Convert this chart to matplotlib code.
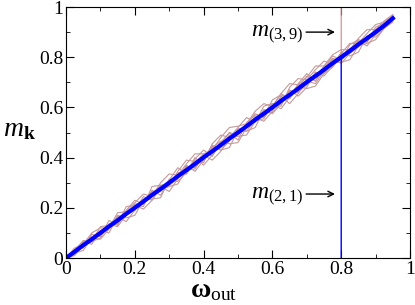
import matplotlib
matplotlib.use("Agg")
import matplotlib.pyplot as plt
from matplotlib.ticker import MultipleLocator, FixedLocator, FixedFormatter

plt.rcParams['font.family'] = ['Liberation Serif', 'DejaVu Serif']
plt.rcParams['mathtext.fontset'] = 'custom'
plt.rcParams['mathtext.rm'] = 'Liberation Serif'
plt.rcParams['mathtext.it'] = 'Liberation Serif:italic'
plt.rcParams['mathtext.bf'] = 'Liberation Serif:bold'

# omega grid
omega = [0, .025, .05, .075, .1, .125, .15, .175, .2, .225, .25, .275, .3, .325,
         .35, .375, .4, .425, .45, .475, .5, .525, .55, .575, .6, .625, .65, .675,
         .7, .725, .75, .775, .8, .825, .85, .875, .9, .925, .95]

# noisy m_k curves (brown bundle)
m_a = [0, .03, .045, .08, .095, .13, .14, .18, .195, .235, .245, .28, .31, .315, .36, .37, .41, .43, .44, .49,
       .495, .535, .545, .59, .59, .64, .645, .69, .695, .735, .745, .79, .795, .835, .845, .88, .905, .93, .955]
m_b = [0, .02, .06, .07, .11, .12, .165, .17, .215, .22, .265, .27, .285, .34, .345, .39, .39, .44, .465, .47,
       .515, .52, .565, .565, .615, .62, .665, .665, .71, .72, .765, .77, .81, .82, .86, .87, .895, .935, .95]
m_c = [0, .028, .048, .085, .1, .118, .158, .185, .19, .23, .26, .265, .305, .33, .335, .38, .415, .41, .455, .5,
       .49, .53, .575, .56, .6, .655, .635, .68, .725, .705, .755, .795, .785, .83, .865, .86, .91, .92, .96]
m_d = [0, .022, .055, .078, .092, .135, .145, .17, .21, .215, .255, .29, .29, .315, .365, .36, .4, .445, .43, .465,
       .51, .505, .55, .58, .58, .615, .655, .66, .69, .74, .735, .76, .805, .815, .84, .885, .89, .925, .965]
m_e = [0, .026, .05, .072, .105, .128, .152, .18, .2, .228, .248, .278, .298, .322, .352, .372, .402, .425, .448, .478,
       .5, .528, .552, .572, .605, .628, .648, .672, .702, .728, .752, .775, .8, .825, .852, .875, .902, .925, .952]
m_f = [0, .024, .052, .074, .098, .122, .148, .176, .205, .222, .252, .272, .302, .328, .348, .378, .396, .432, .452, .472,
       .504, .522, .556, .576, .596, .632, .652, .676, .698, .732, .748, .782, .812, .818, .848, .878, .898, .932, .948]
m_g = [0, .035, .04, .095, .085, .15, .13, .19, .23, .215, .27, .25, .31, .36, .335, .395, .43, .405, .46, .5,
       .47, .54, .57, .565, .63, .65, .635, .695, .735, .705, .76, .805, .79, .85, .87, .86, .92, .935, .96]
m_h = [0, .015, .065, .055, .11, .1, .165, .145, .19, .245, .23, .285, .265, .315, .37, .345, .39, .45, .43, .44,
       .51, .505, .52, .59, .575, .615, .67, .645, .68, .74, .725, .765, .82, .805, .82, .885, .88, .915, .95]
m_i = [0, .03, .07, .065, .125, .13, .135, .205, .21, .205, .285, .29, .29, .345, .39, .385, .38, .455, .49, .48,
       .52, .56, .54, .605, .615, .605, .68, .715, .71, .75, .785, .77, .815, .855, .855, .895, .93, .94, .965]
m_j = [0, .02, .03, .08, .075, .115, .17, .16, .17, .23, .235, .24, .315, .305, .34, .4, .37, .41, .465, .455,
       .46, .52, .56, .545, .585, .645, .615, .655, .705, .695, .745, .795, .775, .815, .865, .845, .89, .93, .945]
m_k = [0, .04, .055, .1, .12, .12, .18, .185, .22, .255, .245, .3, .335, .33, .375, .415, .415, .43, .48, .52,
       .525, .535, .585, .615, .605, .655, .695, .69, .72, .765, .765, .81, .83, .83, .875, .91, .91, .945, .97]
m_l = [0, .01, .05, .065, .08, .135, .125, .17, .21, .195, .23, .28, .285, .295, .35, .355, .41, .39, .425, .48,
       .485, .49, .545, .555, .61, .595, .64, .685, .675, .685, .735, .78, .78, .79, .845, .855, .87, .915, .94]
brown_curves = [m_a, m_b, m_c, m_d, m_e, m_f, m_g, m_h, m_i, m_j, m_k, m_l]

# mean curves (blue)
m_mean1 = [0, .025, .051, .075, .1, .126, .15, .176, .2, .225, .251, .275, .3, .326, .35, .375, .401, .425, .45, .476,
           .5, .525, .551, .575, .6, .626, .65, .675, .701, .725, .75, .776, .8, .825, .851, .875, .9, .926, .955]
m_mean2 = [0, .024, .049, .076, .099, .124, .151, .174, .201, .224, .249, .276, .299, .324, .351, .374, .399, .426, .449, .474,
           .501, .524, .549, .576, .599, .624, .651, .674, .699, .726, .749, .774, .801, .824, .849, .876, .899, .924, .952]

# m_(3,9): jumps to 1 at omega = 0.8 ; m_(2,1): drops to 0 at omega = 0.8
omega_jump = omega[:33] + [0.8]
m_39 = m_e[:33] + [1.0]
m_21 = m_mean1[:33] + [0.0]

fig = plt.figure(figsize=(4.15, 3.05), dpi=100)
ax = fig.add_axes([0.159, 0.154, 0.829, 0.823])

for m in brown_curves:
    ax.plot(omega, m, color='#c49a9a', lw=0.8)
ax.plot(omega_jump, m_39, color='#d08585', lw=0.8)
ax.plot(omega, m_mean1, color='blue', lw=3.0)
ax.plot(omega, m_mean2, color='blue', lw=1.5)
ax.plot(omega_jump, m_21, color='blue', lw=1.0)

ax.set_xlim(0, 1)
ax.set_ylim(0, 1)
ticks = [0, 0.2, 0.4, 0.6, 0.8, 1]
tick_labels = ['0', '0.2', '0.4', '0.6', '0.8', '1']
ax.xaxis.set_major_locator(FixedLocator(ticks))
ax.xaxis.set_major_formatter(FixedFormatter(tick_labels))
ax.yaxis.set_major_locator(FixedLocator(ticks))
ax.yaxis.set_major_formatter(FixedFormatter(tick_labels))
ax.xaxis.set_minor_locator(MultipleLocator(0.1))
ax.yaxis.set_minor_locator(MultipleLocator(0.1))
ax.tick_params(which='both', direction='in', top=True, right=True, labelsize=14, pad=2)
ax.tick_params(which='major', length=6)
ax.tick_params(which='minor', length=3)

ax.text(-0.135, 0.51, r'$m_{\mathbf{k}}$', transform=ax.transAxes, fontsize=20,
        ha='center', va='center')
ax.text(0.43, -0.08, r'$\mathbf{ω}_{\mathrm{out}}$', transform=ax.transAxes, fontsize=20,
        ha='center', va='top')

ax.annotate('', xy=(0.79, 0.90), xytext=(0.69, 0.90),
            arrowprops=dict(arrowstyle='->', color='black', lw=1.0))
ax.text(0.69, 0.89, r'$m_{(3,9)}$', fontsize=17, ha='right', va='center')
ax.annotate('', xy=(0.79, 0.255), xytext=(0.69, 0.255),
            arrowprops=dict(arrowstyle='->', color='black', lw=1.0))
ax.text(0.69, 0.245, r'$m_{(2,1)}$', fontsize=17, ha='right', va='center')

fig.savefig('out.png', dpi=100)
